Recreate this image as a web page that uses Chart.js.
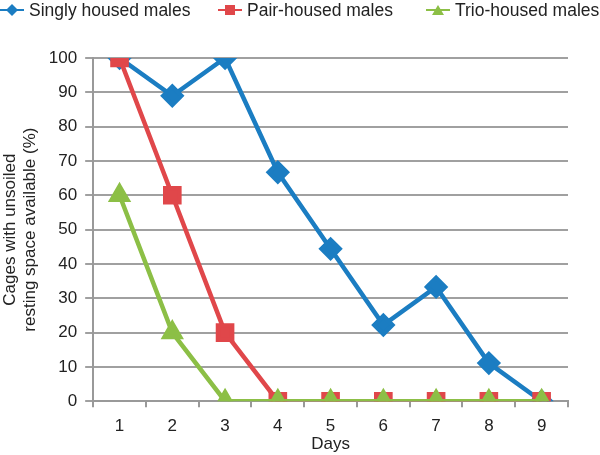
<!DOCTYPE html>
<html>
<head>
<meta charset="utf-8">
<script src="https://cdn.jsdelivr.net/npm/chart.js@4"></script>
<style>
  html, body { margin: 0; padding: 0; background: #fff; }
  #wrap { width: 600px; height: 455px; }
</style>
</head>
<body>
<div id="wrap"><canvas id="c" width="600" height="455"></canvas></div>
<script>
// データ
const days = ['1', '2', '3', '4', '5', '6', '7', '8', '9'];
const singly = [100, 89, 100, 66.7, 44.4, 22.2, 33.3, 11.1, 0];
const pair = [100, 60, 20, 0, 0, 0, 0, 0, 0];
const trio = [60, 20, 0, 0, 0, 0, 0, 0, 0];
const seriesNames = ['Singly housed males', 'Pair-housed males', 'Trio-housed males'];

const BLUE = '#1b7dc2';
const RED = '#e0474a';
const GREEN = '#8cbf46';
const FONT = "'Liberation Sans', Arial, sans-serif";

// 凡例を描く（線＋マーカー）
const legendX = [0, 218, 426];
const legendShapes = ['diamond', 'rect', 'tri'];
const legendPlugin = {
    id: 'lineLegend',
    afterDraw(chart) {
        const g = chart.ctx;
        g.save();
        chart.data.datasets.forEach((ds, i) => {
            const x = legendX[i], y = 10;
            g.strokeStyle = ds.borderColor; g.fillStyle = ds.borderColor; g.lineWidth = 2;
            g.beginPath(); g.moveTo(x, y); g.lineTo(x + 24, y); g.stroke();
            const cx = x + 12;
            g.beginPath();
            if (legendShapes[i] === 'diamond') {
                g.moveTo(cx, y - 6); g.lineTo(cx + 6, y); g.lineTo(cx, y + 6); g.lineTo(cx - 6, y);
            } else if (legendShapes[i] === 'rect') {
                g.rect(cx - 5, y - 5, 10, 10);
            } else {
                g.moveTo(cx, y - 5); g.lineTo(cx + 6, y + 5); g.lineTo(cx - 6, y + 5);
            }
            g.closePath(); g.fill();
            g.fillStyle = '#222';
            g.font = '17.5px ' + FONT;
            g.textBaseline = 'middle';
            g.textAlign = 'left';
            g.fillText(ds.label, x + 29, y + 1);
        });
        g.restore();
    }
};

new Chart(document.getElementById('c').getContext('2d'), {
    type: 'line',
    data: {
        labels: days,
        datasets: [
            {
                label: seriesNames[0], data: singly, order: 2,
                borderColor: BLUE, backgroundColor: BLUE, borderWidth: 4.5,
                pointStyle: 'rectRot', pointRadius: 9, pointHoverRadius: 9
            },
            {
                label: seriesNames[1], data: pair, order: 1,
                borderColor: RED, backgroundColor: RED, borderWidth: 4.5,
                pointStyle: 'rect', pointRadius: 10, pointHoverRadius: 10
            },
            {
                label: seriesNames[2], data: trio, order: 0,
                borderColor: GREEN, backgroundColor: GREEN, borderWidth: 4.5,
                pointStyle: 'triangle', pointRadius: 9, pointHoverRadius: 9
            }
        ]
    },
    plugins: [legendPlugin],
    options: {
        responsive: false,
        animation: false,
        layout: { padding: { left: 0, right: 0, top: 58, bottom: 0 } },
        plugins: {
            tooltip: { enabled: false },
            legend: { display: false }
        },
        scales: {
            x: {
                offset: true,
                grid: { display: true, drawOnChartArea: false, drawTicks: true, tickLength: 6, color: '#999', lineWidth: 2, offset: true },
                border: { color: '#999', width: 2 },
                ticks: { color: '#222', font: { family: FONT, size: 17 }, padding: 9 },
                title: { display: true, text: 'Days', color: '#222', font: { family: FONT, size: 17 }, padding: { top: -11, bottom: 0 } }
            },
            y: {
                min: 0, max: 100,
                ticks: { stepSize: 10, color: '#222', font: { family: FONT, size: 17 }, padding: 8 },
                grid: { color: '#a0a0a0', lineWidth: 2, tickLength: 8 },
                border: { color: '#999', width: 2 },
                title: {
                    display: true,
                    text: ['Cages with unsoiled', 'resting space available (%)'],
                    color: '#222', font: { family: FONT, size: 17, lineHeight: 1.2 }, padding: { top: 0, bottom: 0 }
                }
            },
            // 右側の余白用（表示なし）
            yRight: {
                position: 'right',
                min: 0, max: 100,
                ticks: { display: false },
                grid: { display: false, drawOnChartArea: false },
                border: { display: false },
                afterFit: s => { s.width = 32; }
            }
        }
    }
});
</script>
</body>
</html>
